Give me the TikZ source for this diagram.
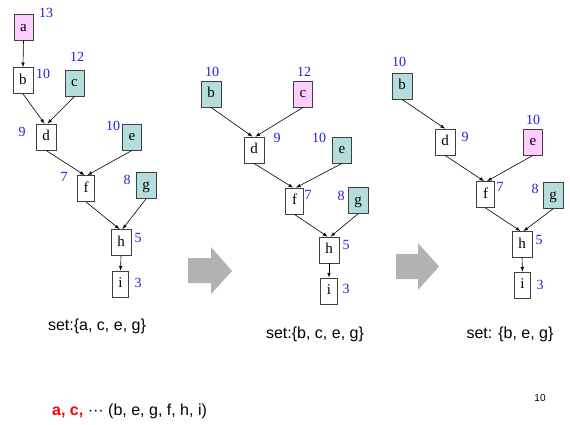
\documentclass[tikz,border=0pt]{standalone}
\usepackage{fontspec}
\setmainfont{Liberation Serif}
\setsansfont{Liberation Sans}
\usetikzlibrary{arrows}
\usetikzlibrary{positioning}
\tikzset{>=latex}
\definecolor{pinkfill}{HTML}{FFCCFF}
\definecolor{tealfill}{HTML}{B4DEDE}
\definecolor{boxline}{HTML}{404040}
\definecolor{numblue}{HTML}{1F1FE0}

\begin{document}
\begin{tikzpicture}[x=1pt,y=-1pt,
		vert/.style={draw=boxline, line width=0.8pt, fill=white, inner xsep=6.2pt, inner ysep=0pt, minimum height=26pt, text height=10.5pt, text depth=3pt, font=\fontsize{15}{17}\selectfont},
		hot/.style={vert, fill=pinkfill},
		cand/.style={vert, fill=tealfill},
		wt/.style={text=numblue, inner sep=0pt, font=\fontsize{14}{16}\selectfont},
		settext/.style={inner sep=0pt, font=\sffamily\fontsize{16}{18}\selectfont},
		bigarrow/.style={fill=black!30}]
		\useasboundingbox (0,0) rectangle (570,425);
		% first tree
		\node[hot] (a1) at (23.5,27.5) {a};
		\node[vert] (b1) at (23,80.5) {b};
		\node[cand] (c1) at (74.5,83) {c};
		\node[vert] (d1) at (46,137) {d};
		\node[cand] (e1) at (132,137) {e};
		\node[vert] (f1) at (86,188.5) {f};
		\node[cand] (g1) at (146,185.5) {g};
		\node[vert] (h1) at (121,242.5) {h};
		\node[vert] (i1) at (120.5,284) {i};
		\node[wt] (wa1) at (46,13) {13};
		\node[wt] (wb1) at (43,74) {10};
		\node[wt] (wc1) at (77,57) {12};
		\node[wt] (wd1) at (22,132) {9};
		\node[wt] (we1) at (113,126) {10};
		\node[wt] (wf1) at (64,177) {7};
		\node[wt] (wg1) at (127,180) {8};
		\node[wt] (wh1) at (138,238) {5};
		\node[wt] (wi1) at (138,283) {3};
		\path[->, line width=0.6pt]
			(a1.south) edge (b1.north)
			(b1.south) edge ([xshift=-1.5pt]d1.north)
			(c1.south) edge ([xshift=1.5pt]d1.north)
			(d1.south) edge ([xshift=-1.5pt]f1.north)
			(e1.south) edge ([xshift=1.5pt]f1.north)
			(f1.south) edge ([xshift=-1.5pt]h1.north)
			(g1.south) edge ([xshift=1.5pt]h1.north)
			(h1.south) edge (i1.north);
		\node[settext] (set1) at (97,326) {set:\{a, c, e, g\}};
		% second tree
		\node[cand] (b2) at (211,94) {b};
		\node[hot] (c2) at (303,94) {c};
		\node[vert] (d2) at (254,150) {d};
		\node[cand] (e2) at (342,150) {e};
		\node[vert] (f2) at (294.5,201) {f};
		\node[cand] (g2) at (358,200.5) {g};
		\node[vert] (h2) at (329,250) {h};
		\node[vert] (i2) at (329,291) {i};
		\node[wt] (wb2) at (212,72) {10};
		\node[wt] (wc2) at (304,72) {12};
		\node[wt] (wd2) at (277,138) {9};
		\node[wt] (we2) at (319,138) {10};
		\node[wt] (wf2) at (308,195) {7};
		\node[wt] (wg2) at (341,196) {8};
		\node[wt] (wh2) at (346,245) {5};
		\node[wt] (wi2) at (346,289) {3};
		\path[->, line width=0.6pt]
			(b2.south) edge ([xshift=-1.5pt]d2.north)
			(c2.south) edge ([xshift=1.5pt]d2.north)
			(d2.south) edge ([xshift=-1.5pt]f2.north)
			(e2.south) edge ([xshift=1.5pt]f2.north)
			(f2.south) edge ([xshift=-1.5pt]h2.north)
			(g2.south) edge ([xshift=1.5pt]h2.north)
			(h2.south) edge (i2.north);
		\node[settext] (set2) at (315,334) {set:\{b, c, e, g\}};
		% third tree
		\node[cand] (b3) at (402,86) {b};
		\node[vert] (d3) at (445,142) {d};
		\node[hot] (e3) at (533,142) {e};
		\node[vert] (f3) at (485.5,194.5) {f};
		\node[cand] (g3) at (553,195.5) {g};
		\node[vert] (h3) at (522,244.5) {h};
		\node[vert] (i3) at (522.5,285) {i};
		\node[wt] (wb3) at (399,62) {10};
		\node[wt] (wd3) at (465,137) {9};
		\node[wt] (we3) at (533,120) {10};
		\node[wt] (wf3) at (500,187) {7};
		\node[wt] (wg3) at (535,189) {8};
		\node[wt] (wh3) at (539,240) {5};
		\node[wt] (wi3) at (540,285) {3};
		\path[->, line width=0.6pt]
			(b3.south) edge (d3.north)
			(d3.south) edge ([xshift=-1.5pt]f3.north)
			(e3.south) edge ([xshift=1.5pt]f3.north)
			(f3.south) edge ([xshift=-1.5pt]h3.north)
			(g3.south) edge ([xshift=1.5pt]h3.north)
			(h3.south) edge (i3.north);
		\node[settext] (set3) at (510,334) {set: \{b, e, g\}};
		% gray arrows between trees
		\fill[bigarrow] (188,258) -- (211,258) -- (211,247) -- (232,271) -- (211,294) -- (211,283) -- (188,283) -- cycle;
		\fill[bigarrow] (396,254) -- (418,254) -- (418,243) -- (439,266.5) -- (418,290) -- (418,279) -- (396,279) -- cycle;
		% bottom line and page number
		\node[settext, anchor=west] (order) at (52,411) {\textcolor{red}{\bfseries a, c,} ··· (b, e, g, f, h, i)};
		\node[inner sep=0pt, font=\sffamily\fontsize{10}{12}\selectfont] (pageno) at (540,398) {10};
	\end{tikzpicture}
\end{document}
